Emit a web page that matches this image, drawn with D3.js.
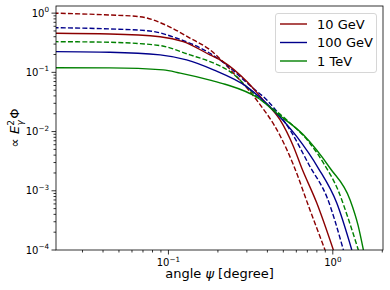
<!DOCTYPE html>
<html>
<head>
<meta charset="utf-8">
<script src="https://cdn.jsdelivr.net/npm/d3@7"></script>
<style>
  body { margin: 0; background: #fff; }
  svg { font-family: "DejaVu Sans", sans-serif; }
</style>
</head>
<body>
<svg id="chart" width="390" height="290"></svg>
<script>
// values (angle in degree, flux in arbitrary units)
var angle10Dash = [0.02, 0.044, 0.067, 0.1, 0.135, 0.179, 0.255, 0.347, 0.478, 0.574, 0.727, 0.897];
var flux10Dash  = [1.0, 0.93, 0.87, 0.6, 0.38, 0.24, 0.09, 0.033, 0.0085, 0.0028, 0.00047, 0.0001];
var angle10 = [0.02, 0.044, 0.089, 0.123, 0.179, 0.215, 0.30, 0.378, 0.478, 0.576, 0.648, 0.799, 1.008];
var flux10  = [0.457, 0.445, 0.40, 0.33, 0.197, 0.152, 0.07, 0.034, 0.0157, 0.0056, 0.0024, 0.00062, 0.0001];
var angle100Dash = [0.02, 0.044, 0.077, 0.1125, 0.179, 0.206, 0.32, 0.397, 0.55, 0.727, 0.919, 1.16];
var flux100Dash  = [0.569, 0.541, 0.50, 0.377, 0.21, 0.162, 0.057, 0.034, 0.0106, 0.00255, 0.00079, 0.0001];
var angle100 = [0.02, 0.044, 0.089, 0.129, 0.188, 0.30, 0.435, 0.604, 0.817, 1.057, 1.305];
var flux100  = [0.224, 0.219, 0.197, 0.162, 0.11, 0.057, 0.023, 0.0082, 0.0024, 0.00062, 0.0001];
var angle1TDash = [0.02, 0.044, 0.089, 0.1355, 0.179, 0.237, 0.345, 0.525, 0.727, 0.88, 1.08, 1.25, 1.43];
var flux1TDash  = [0.33, 0.322, 0.283, 0.197, 0.152, 0.103, 0.039, 0.0157, 0.0063, 0.0029, 0.001, 0.00032, 0.0001];
var angle1T = [0.02, 0.044, 0.093, 0.118, 0.179, 0.221, 0.353, 0.456, 0.662, 0.963, 1.274, 1.425, 1.535];
var flux1T  = [0.120, 0.119, 0.110, 0.097, 0.074, 0.063, 0.0365, 0.0204, 0.0088, 0.0024, 0.0007, 0.00026, 0.0001];

var labels = ["10 GeV", "100 GeV", "1 TeV"];
var colors = ["#8b0000", "#00008b", "#008000"];
var xTicks = [0.1, 1];
var yTicks = [1e-4, 1e-3, 1e-2, 1e-1, 1];

function zip(a, b) {
	var out = [];
	for (var i = 0; i < a.length; i++) out.push({ angle: a[i], flux: b[i] });
	return out;
}

var series = [
	{ data: zip(angle10Dash, flux10Dash), color: 0, dash: true },
	{ data: zip(angle100Dash, flux100Dash), color: 1, dash: true },
	{ data: zip(angle1TDash, flux1TDash), color: 2, dash: true },
	{ data: zip(angle10, flux10), color: 0, dash: false },
	{ data: zip(angle100, flux100), color: 1, dash: false },
	{ data: zip(angle1T, flux1T), color: 2, dash: false }
];

var svg = d3.select("#chart");
var plotL = 56, plotR = 383, plotT = 6, plotB = 250;

var x = d3.scaleLog().domain([0.0207, 2.02]).range([plotL, plotR]);
var y = d3.scaleLog().domain([1e-4, 1.32]).range([plotB, plotT]);

svg.append("clipPath").attr("id", "clip")
	.append("rect")
	.attr("x", plotL).attr("y", plotT)
	.attr("width", plotR - plotL).attr("height", plotB - plotT);

var line = d3.line()
	.x(function(d) { return x(d.angle); })
	.y(function(d) { return y(d.flux); })
	.curve(d3.curveMonotoneX);

svg.append("g").attr("clip-path", "url(#clip)")
	.selectAll("path")
	.data(series)
	.enter().append("path")
	.attr("fill", "none")
	.attr("stroke", function(d) { return colors[d.color]; })
	.attr("stroke-width", 1.4)
	.attr("stroke-dasharray", function(d) { return d.dash ? "5,2.2" : null; })
	.attr("d", function(d) { return line(d.data); });

// minor ticks
var xMinor = [];
[0.01, 0.1, 1].forEach(function(p) {
	for (var k = 2; k <= 9; k++) {
		var v = k * p;
		if (v > 0.0207 && v < 2.02) xMinor.push(v);
	}
});
var yMinor = [];
[1e-4, 1e-3, 1e-2, 1e-1].forEach(function(p) {
	for (var k = 2; k <= 9; k++) yMinor.push(k * p);
});

var axisG = svg.append("g").attr("stroke", "#000").attr("stroke-width", 0.8);
axisG.selectAll(".xmin").data(xMinor).enter().append("line")
	.attr("x1", function(d) { return x(d); }).attr("x2", function(d) { return x(d); })
	.attr("y1", plotB).attr("y2", plotB + 2.5);
axisG.selectAll(".xmaj").data(xTicks).enter().append("line")
	.attr("x1", function(d) { return x(d); }).attr("x2", function(d) { return x(d); })
	.attr("y1", plotB).attr("y2", plotB + 4.5);
axisG.selectAll(".ymin").data(yMinor).enter().append("line")
	.attr("y1", function(d) { return y(d); }).attr("y2", function(d) { return y(d); })
	.attr("x1", plotL).attr("x2", plotL - 2.5);
axisG.selectAll(".ymaj").data(yTicks).enter().append("line")
	.attr("y1", function(d) { return y(d); }).attr("y2", function(d) { return y(d); })
	.attr("x1", plotL).attr("x2", plotL - 4.5);

svg.append("rect")
	.attr("x", plotL).attr("y", plotT)
	.attr("width", plotR - plotL).attr("height", plotB - plotT)
	.attr("fill", "none").attr("stroke", "#000").attr("stroke-width", 0.8);

function expLabel(sel, d) {
	var e = Math.round(Math.log10(d));
	sel.append("tspan").text("10");
	sel.append("tspan").attr("dy", -4.5).attr("font-size", 7.2)
		.text(e < 0 ? "\u2212" + (-e) : "" + e);
}

svg.selectAll(".xlab").data(xTicks).enter().append("text")
	.attr("x", function(d) { return x(d); })
	.attr("y", plotB + 16)
	.attr("text-anchor", "middle")
	.attr("font-size", 10)
	.each(function(d) { expLabel(d3.select(this), d); });

svg.selectAll(".ylab").data(yTicks).enter().append("text")
	.attr("x", plotL - 7)
	.attr("y", function(d) { return y(d) + 3.5; })
	.attr("text-anchor", "end")
	.attr("font-size", 10)
	.each(function(d) { expLabel(d3.select(this), d); });

// axis titles
var xt = svg.append("text")
	.attr("x", (plotL + plotR) / 2)
	.attr("y", 278)
	.attr("text-anchor", "middle")
	.attr("font-size", 13);
xt.append("tspan").text("angle ");
xt.append("tspan").attr("font-style", "italic").text("\u03c8");
xt.append("tspan").text(" [degree]");

var yt = svg.append("text")
	.attr("transform", "translate(19," + ((plotT + plotB) / 2) + ") rotate(-90)")
	.attr("text-anchor", "middle")
	.attr("font-size", 13);
yt.append("tspan").text("\u221d ");
yt.append("tspan").attr("font-style", "italic").text("E");
yt.append("tspan").attr("font-size", 9).attr("dy", -5).text("2");
yt.append("tspan").attr("font-size", 9).attr("font-style", "italic").attr("dx", -5.5).attr("dy", 8.5).text("\u03b3");
yt.append("tspan").attr("dy", -3.5).attr("dx", 1.5).text("\u03a6");

// legend
var lg = svg.append("g");
lg.append("rect")
	.attr("x", 275.5).attr("y", 13.5)
	.attr("width", 101).attr("height", 59)
	.attr("rx", 2.5)
	.attr("fill", "#fff").attr("fill-opacity", 0.8)
	.attr("stroke", "#ccc").attr("stroke-width", 0.8);
labels.forEach(function(t, i) {
	var yy = 24 + i * 18.5;
	lg.append("line")
		.attr("x1", 280).attr("x2", 307)
		.attr("y1", yy).attr("y2", yy)
		.attr("stroke", colors[i]).attr("stroke-width", 1.4);
	lg.append("text")
		.attr("x", 317).attr("y", yy + 4.5)
		.attr("font-size", 13)
		.text(t);
});
</script>
</body>
</html>
